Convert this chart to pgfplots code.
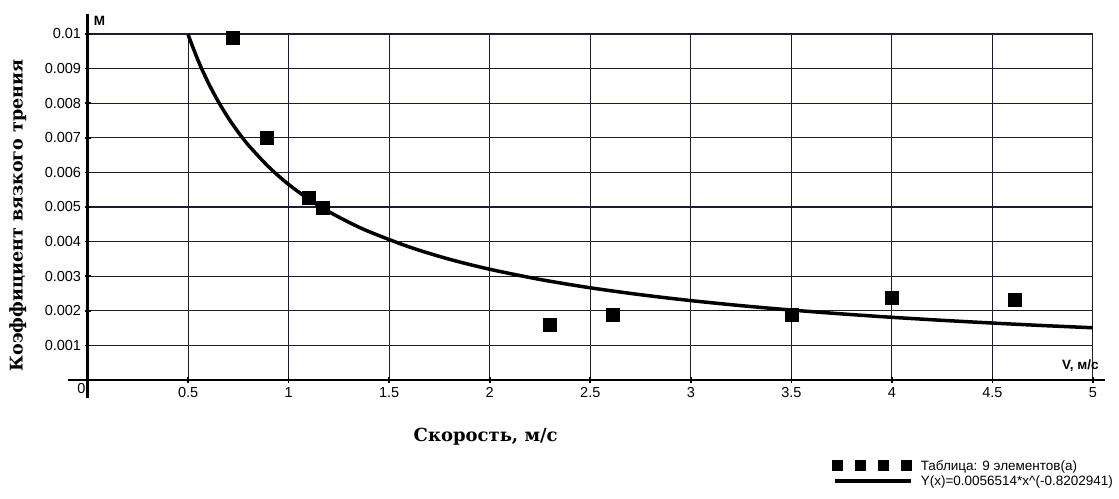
\documentclass[border=0pt]{standalone}
\usepackage{fontspec}
\setmainfont{Liberation Sans}
\newfontfamily\serifb{DejaVu Serif}
\usepackage{pgfplots}
\pgfplotsset{compat=1.18}
\definecolor{gridc}{RGB}{30,28,50}
\begin{document}
\begin{tikzpicture}
\begin{axis}[
  at={(0,0)}, anchor=south west,
  scale only axis, width=1005.4pt, height=346pt,
  xmin=0, xmax=5, ymin=0, ymax=0.01,
  axis lines=left,
  clip=false,
  scaled y ticks=false, scaled x ticks=false,
  x axis line style={-, line width=2.4pt, shorten <=-20pt, shorten >=-12pt},
  y axis line style={-, line width=2.4pt, shorten <=-18pt, shorten >=-20pt},
  grid=major,
  grid style={line width=1.1pt, color=gridc},
  major tick length=6pt, tick align=center,
  tick style={line width=1.6pt, black},
  xtick={0.5,1,1.5,2,2.5,3,3.5,4,4.5,5},
  xticklabels={0.5,1,1.5,2,2.5,3,3.5,4,4.5,5},
  ytick={0.001,0.002,0.003,0.004,0.005,0.006,0.007,0.008,0.009,0.01},
  yticklabels={0.001,0.002,0.003,0.004,0.005,0.006,0.007,0.008,0.009,0.01},
  /pgf/number format/assume math mode=true,
  ticklabel style={font=\fontsize{14.5}{16}\selectfont, text=black},
  xticklabel style={yshift=-1pt},
  xlabel={Скорость, м/с},
  xlabel style={at={(axis description cs:0.396,-0.165)}, anchor=center, font=\serifb\bfseries\fontsize{18}{20}\selectfont},
  ylabel={Коэффициент вязкого трения},
  ylabel style={at={(axis description cs:-0.0695,0.475)}, anchor=center, font=\serifb\bfseries\fontsize{17.5}{20}\selectfont},
  legend style={at={(rel axis cs:1.022,-0.315)}, anchor=south east, draw=none, fill=none,
     font=\fontsize{13.5}{15}\selectfont, row sep=0pt, inner sep=0pt, cells={anchor=west}},
  legend cell align=left,
]
\addplot[only marks, mark=square*, mark size=6.5pt, black,
  legend image code/.code={
    \fill[black, draw=none] (-3pt,-5.5pt) rectangle (8pt,5.5pt);
    \fill[black, draw=none] (20pt,-5.5pt) rectangle (31pt,5.5pt);
    \fill[black, draw=none] (43pt,-5.5pt) rectangle (54pt,5.5pt);
    \fill[black, draw=none] (66pt,-5.5pt) rectangle (77pt,5.5pt);
    \path[draw=none] (0pt,0pt) -- (84pt,0pt);
  }] coordinates {
  (0.72,0.00988) (0.89,0.00699) (1.10,0.00526) (1.17,0.00497)
  (2.30,0.00159) (2.61,0.00188) (3.50,0.00188) (4.00,0.00237) (4.61,0.00231)
};
\addlegendentry{Таблица: 9 элементов(а)}
\addplot[black, line width=3.5pt, smooth,
  legend image code/.code={
    \draw[black, line width=3.5pt] (0pt,0pt) -- (76pt,0pt);
    \path[draw=none] (0pt,0pt) -- (84pt,0pt);
  }] coordinates {
  (0.5,0.009978) (0.55,0.009229) (0.6,0.008593) (0.65,0.008047) (0.7,0.007572)
  (0.75,0.007156) (0.8,0.006786) (0.9,0.006162) (1.0,0.0056514) (1.1,0.005226)
  (1.2,0.004866) (1.3,0.004557) (1.4,0.004288) (1.6,0.003844) (1.8,0.003489)
  (2.0,0.003201) (2.25,0.002906) (2.5,0.002665) (2.75,0.002465) (3.0,0.002295)
  (3.25,0.002149) (3.5,0.002022) (3.75,0.001911) (4.0,0.001812) (4.25,0.001725)
  (4.5,0.001646) (4.75,0.001574) (5.0,0.001510)
};
\addlegendentry{Y(x)=0.0056514*x\^{}(-0.8202941)}
\node[anchor=north east, font=\fontsize{14.5}{16}\selectfont, inner sep=1pt] at (axis cs:0,0) [xshift=-1pt, yshift=-2pt] {0};
\node[anchor=south west, font=\bfseries\fontsize{13.5}{15}\selectfont, inner sep=0pt] at (rel axis cs:0,1) [xshift=6pt, yshift=8pt] {М};
\node[anchor=south east, font=\bfseries\fontsize{13.5}{15}\selectfont, inner sep=0pt] at (axis cs:5,0) [xshift=6pt, yshift=8pt] {V, м/с};
\end{axis}
\path[use as bounding box] (-87.6pt,-118pt) rectangle (1031.4pt,380pt);
\end{tikzpicture}
\end{document}
